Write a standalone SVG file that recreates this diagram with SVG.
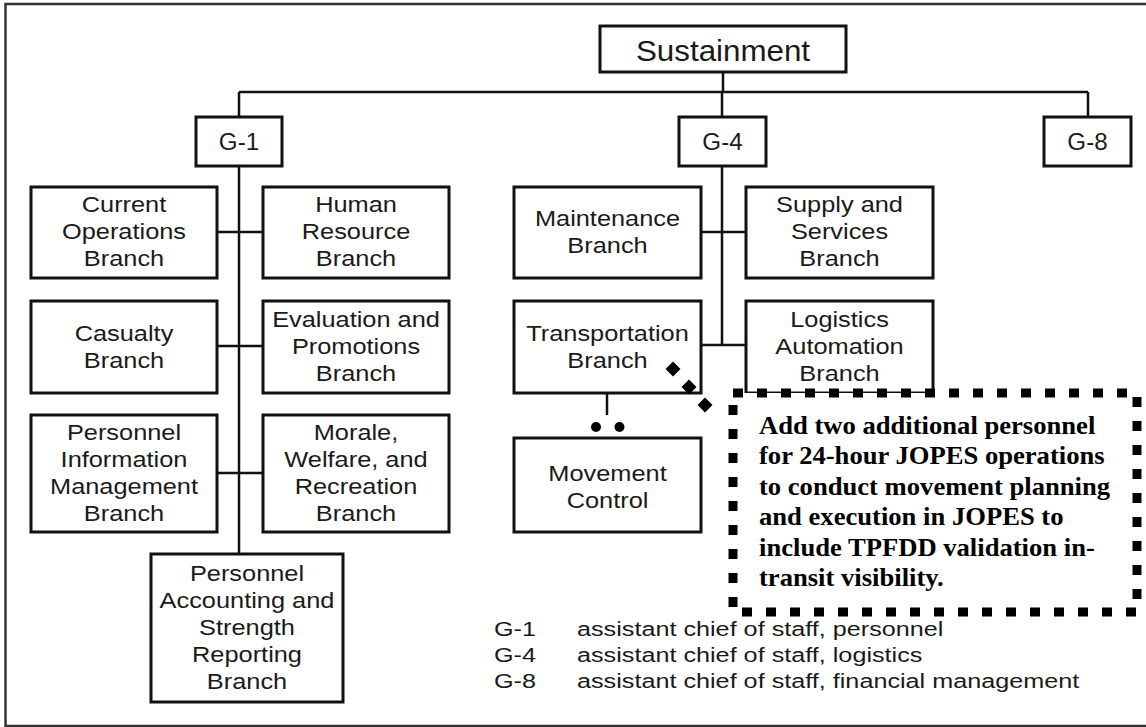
<svg xmlns="http://www.w3.org/2000/svg" xmlns:xlink="http://www.w3.org/1999/xlink" width="1146" height="727" viewBox="0 0 1146 727">
<style>
.box{fill:#fff;stroke:#111;stroke-width:3}
.ln{fill:none;stroke:#111;stroke-width:2.5}
.frame{fill:none;stroke:#333;stroke-width:2.5}
.t{font-family:"Liberation Sans",Arial,Helvetica,sans-serif;font-size:21.5px;fill:#1a1a1a;text-anchor:middle}
.g{font-family:"Liberation Sans",Arial,Helvetica,sans-serif;font-size:23px;fill:#1a1a1a;text-anchor:middle}
.s{font-family:"Liberation Sans",Arial,Helvetica,sans-serif;font-size:29px;fill:#1a1a1a;text-anchor:middle}
.lg{font-family:"Liberation Sans",Arial,Helvetica,sans-serif;font-size:21px;fill:#1a1a1a}
.c{font-family:"Liberation Serif","Times New Roman",serif;font-weight:bold;font-size:24.2px;fill:#000}
.callout{fill:#fff;stroke:#000;stroke-width:9;stroke-dasharray:10 14}
.dot{fill:#000}
</style>
<defs>
<polygon id="dia" points="0,-7.5 7.5,0 0,7.5 -7.5,0" class="dot"/>
</defs>
<rect x="0" y="0" width="1146" height="727" fill="#fff"/>
<path class="frame" d="M1146,4 H5.5 V726 H1146"/>

<g id="sustainment">
<rect class="box" x="600" y="26" width="246" height="46"/>
<text class="s" transform="translate(723 0) scale(1.08 1)" x="0" y="61">Sustainment</text>
</g>
<g id="g1">
<rect class="box" x="196" y="117" width="86" height="49"/>
<text class="g" transform="translate(239 0) scale(1.05 1)" x="0" y="150">G-1</text>
</g>
<g id="g4">
<rect class="box" x="679" y="117" width="87" height="49"/>
<text class="g" transform="translate(722.5 0) scale(1.05 1)" x="0" y="150">G-4</text>
</g>
<g id="g8">
<rect class="box" x="1044" y="117" width="87" height="49"/>
<text class="g" transform="translate(1087.5 0) scale(1.05 1)" x="0" y="150">G-8</text>
</g>

<g id="current-operations">
<rect class="box" x="31" y="187" width="186" height="91"/>
<text class="t" transform="translate(124 0) scale(1.18 1)"><tspan x="0" y="212.5">Current</tspan><tspan x="0" y="239.5">Operations</tspan><tspan x="0" y="266.5">Branch</tspan></text>
</g>
<g id="human-resource">
<rect class="box" x="263" y="187" width="186" height="91"/>
<text class="t" transform="translate(356 0) scale(1.18 1)"><tspan x="0" y="212.5">Human</tspan><tspan x="0" y="239.5">Resource</tspan><tspan x="0" y="266.5">Branch</tspan></text>
</g>
<g id="casualty">
<rect class="box" x="31" y="301" width="186" height="92"/>
<text class="t" transform="translate(124 0) scale(1.18 1)"><tspan x="0" y="341">Casualty</tspan><tspan x="0" y="368">Branch</tspan></text>
</g>
<g id="evaluation">
<rect class="box" x="263" y="301" width="186" height="92"/>
<text class="t" transform="translate(356 0) scale(1.18 1)"><tspan x="0" y="327.5">Evaluation and</tspan><tspan x="0" y="354.5">Promotions</tspan><tspan x="0" y="381.5">Branch</tspan></text>
</g>
<g id="personnel-information">
<rect class="box" x="31" y="415" width="186" height="117"/>
<text class="t" transform="translate(124 0) scale(1.18 1)"><tspan x="0" y="440.5">Personnel</tspan><tspan x="0" y="467.5">Information</tspan><tspan x="0" y="494.5">Management</tspan><tspan x="0" y="521.5">Branch</tspan></text>
</g>
<g id="morale">
<rect class="box" x="263" y="415" width="186" height="117"/>
<text class="t" transform="translate(356 0) scale(1.18 1)"><tspan x="0" y="440.5">Morale,</tspan><tspan x="0" y="467.5">Welfare, and</tspan><tspan x="0" y="494.5">Recreation</tspan><tspan x="0" y="521.5">Branch</tspan></text>
</g>
<g id="personnel-accounting">
<rect class="box" x="151" y="554" width="192" height="148"/>
<text class="t" transform="translate(247 0) scale(1.18 1)"><tspan x="0" y="581.5">Personnel</tspan><tspan x="0" y="608.5">Accounting and</tspan><tspan x="0" y="635.5">Strength</tspan><tspan x="0" y="662.5">Reporting</tspan><tspan x="0" y="689.5">Branch</tspan></text>
</g>

<g id="maintenance">
<rect class="box" x="514" y="187" width="187" height="91"/>
<text class="t" transform="translate(607.5 0) scale(1.18 1)"><tspan x="0" y="226.5">Maintenance</tspan><tspan x="0" y="253.5">Branch</tspan></text>
</g>
<g id="supply">
<rect class="box" x="746" y="187" width="187" height="91"/>
<text class="t" transform="translate(839.5 0) scale(1.18 1)"><tspan x="0" y="212.5">Supply and</tspan><tspan x="0" y="239.5">Services</tspan><tspan x="0" y="266.5">Branch</tspan></text>
</g>
<g id="transportation">
<rect class="box" x="514" y="301" width="187" height="92"/>
<text class="t" transform="translate(607.5 0) scale(1.18 1)"><tspan x="0" y="341">Transportation</tspan><tspan x="0" y="368">Branch</tspan></text>
</g>
<g id="logistics">
<rect class="box" x="746" y="301" width="187" height="92"/>
<text class="t" transform="translate(839.5 0) scale(1.18 1)"><tspan x="0" y="327.5">Logistics</tspan><tspan x="0" y="354.5">Automation</tspan><tspan x="0" y="381.5">Branch</tspan></text>
</g>
<g id="movement-control">
<rect class="box" x="514" y="438" width="187" height="94"/>
<text class="t" transform="translate(607.5 0) scale(1.18 1)"><tspan x="0" y="481">Movement</tspan><tspan x="0" y="508">Control</tspan></text>
</g>

<g id="connectors">
<path class="ln" d="M723,72 V92 M239,92 H1088 M239,92 V117 M722,92 V117 M1088,92 V117"/>
<path class="ln" d="M239,166 V554 M217,232 H263 M217,346 H263 M217,473 H263"/>
<path class="ln" d="M722,166 V345 M701,232 H746 M701,345 H746"/>
<path class="ln" d="M607,393 V415"/>
<circle class="dot" cx="596" cy="427" r="5"/>
<circle class="dot" cx="619.5" cy="427" r="5"/>
<use xlink:href="#dia" x="673" y="369"/>
<use xlink:href="#dia" x="689" y="387"/>
<use xlink:href="#dia" x="705" y="405"/>
</g>

<g id="callout">
<rect class="callout" x="733" y="393" width="404" height="219"/>
<text class="c" transform="translate(759 0) scale(1.1 1)"><tspan x="0" y="434">Add two additional personnel</tspan><tspan x="0" y="464.5">for 24-hour JOPES operations</tspan><tspan x="0" y="495">to conduct movement planning</tspan><tspan x="0" y="525.5">and execution in JOPES to</tspan><tspan x="0" y="556">include TPFDD validation in-</tspan><tspan x="0" y="586.5">transit visibility.</tspan></text>
</g>

<g id="legend">
<text class="lg" transform="translate(494 0) scale(1.2 1)"><tspan x="0" y="636">G-1</tspan><tspan x="0" y="662">G-4</tspan><tspan x="0" y="688.5">G-8</tspan></text>
<text class="lg" transform="translate(577 0) scale(1.2 1)"><tspan x="0" y="636">assistant chief of staff, personnel</tspan><tspan x="0" y="662">assistant chief of staff, logistics</tspan><tspan x="0" y="688.5">assistant chief of staff, financial management</tspan></text>
</g>
</svg>
